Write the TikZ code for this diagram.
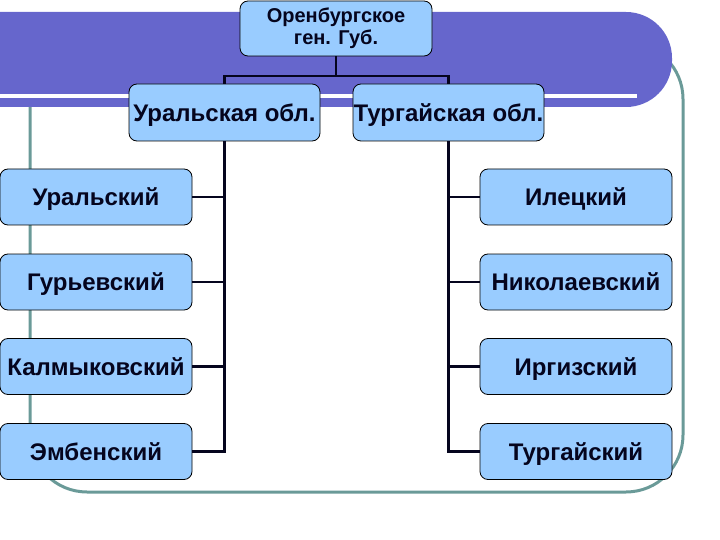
\documentclass[tikz,border=0pt]{standalone}
\usepackage{fontspec}
\setmainfont{Liberation Sans}
\definecolor{bandc}{HTML}{6666CC}
\definecolor{framec}{HTML}{6A9A98}
\definecolor{boxc}{HTML}{99CCFF}
\definecolor{linec}{HTML}{05051E}
\tikzset{
  box/.style={draw=black, fill=boxc, rounded corners=8pt, line width=0.8pt,
    inner sep=0pt, font=\bfseries\fontsize{24}{28}\selectfont, text=linec},
  onel/.style={text height=17.2pt, text depth=0pt},
  leaf/.style={box, onel, minimum width=192pt, minimum height=56pt},
  conn/.style={draw=linec, line width=2.4pt},
}
\begin{document}
\begin{tikzpicture}[x=1pt, y=-1pt]
\useasboundingbox (0,0) rectangle (720,540);
\clip (0,0) rectangle (720,540);
% frame
\draw[framec, line width=3pt, rounded corners=57pt] (30,42) rectangle (683,492);
% band
\fill[bandc, rounded corners=46pt] (-60,12) rectangle (672,107);
\draw[white, line width=4pt] (-5,96.5) -- (637,96.5);
% nodes
\node[box, minimum width=192pt, minimum height=55pt, align=center,
  font=\bfseries\fontsize{20}{22}\selectfont] (top) at (336,28.5) {Оренбургское\\ген. Губ.};
\node[box, onel, minimum width=191pt, minimum height=57pt] (uo) at (224.5,112.5) {Уральская обл.};
\node[box, onel, minimum width=191pt, minimum height=57pt] (to) at (448.5,112.5) {Тургайская обл.};
\node[leaf] (l1) at (96,197) {Уральский};
\node[leaf] (l2) at (96,282) {Гурьевский};
\node[leaf] (l3) at (96,366.5) {Калмыковский};
\node[leaf] (l4) at (96,451.5) {Эмбенский};
\node[leaf] (r1) at (576,197) {Илецкий};
\node[leaf] (r2) at (576,282) {Николаевский};
\node[leaf] (r3) at (576,366.5) {Иргизский};
\node[leaf] (r4) at (576,451.5) {Тургайский};
% connectors
\coordinate (bar) at (336,76);
\draw[conn] (top.south) -- (bar);
\draw[conn] (uo.north) |- (bar) -| (to.north);
\draw[conn] (uo.south) |- (l4.east);
\draw[conn] (to.south) |- (r4.west);
\foreach \n in {l1,l2,l3} \draw[conn] (uo.south |- \n.east) -- (\n.east);
\foreach \n in {r1,r2,r3} \draw[conn] (to.south |- \n.west) -- (\n.west);
\end{tikzpicture}
\end{document}
